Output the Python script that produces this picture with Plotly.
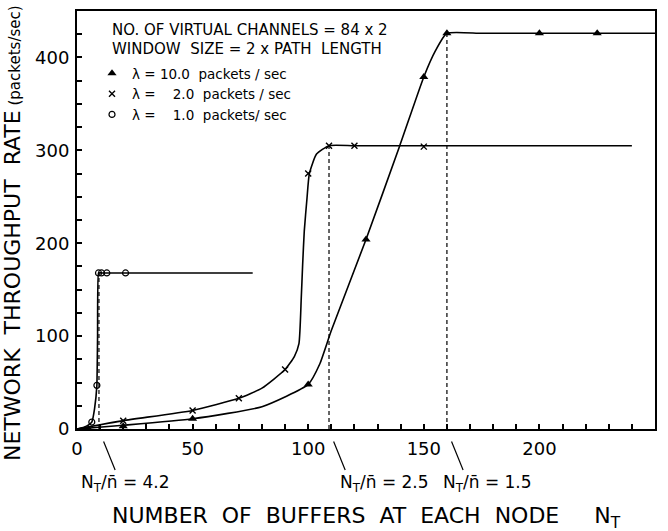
import plotly.graph_objects as go

# ---------------- data ----------------
# lambda = 10.0 packets/sec (filled triangles)
nt_l10 = [5, 20, 50, 100, 125, 150, 160, 200, 225]
rate_l10 = [0, 3, 11, 48, 204, 379, 426, 426, 426]
curve_nt_l10 = [0, 20, 50, 80, 100, 105, 110, 125, 139.6, 150, 155, 160, 175, 200, 225, 250]
curve_rate_l10 = [0, 4, 11, 24, 48, 70, 106, 204, 305, 379, 407, 426, 426, 426, 426, 426]

# lambda = 2.0 packets/sec (crosses)
nt_l2 = [20, 50, 70, 90, 100, 109, 120, 150]
rate_l2 = [9, 20, 33, 64, 275, 305, 305, 304]
curve_nt_l2 = [0, 20, 50, 70, 80, 90, 94, 96, 97, 97.6, 98.3, 99.5, 100.5, 103.6, 109, 120, 150, 180, 210, 240]
curve_rate_l2 = [0, 9, 20, 33, 44, 64, 78, 92, 141, 177, 213, 249, 275, 296, 305, 305, 305, 305, 305, 305]

# lambda = 1.0 packets/sec (open circles)
nt_l1 = [6.4, 8.6, 9.3, 10.6, 12.9, 21]
rate_l1 = [7.5, 47, 168, 168, 168, 168]
curve_nt_l1 = [0, 3, 5, 6.4, 7.6, 8.6, 8.9, 9.3, 10.6, 12.9, 21, 40, 58, 76]
curve_rate_l1 = [0, 2, 4.5, 7.5, 22, 47, 100, 168, 168, 168, 168, 168, 168, 168]

# saturation points (dashed verticals) and N_T / n-bar ratios
sat_nt = [9.5, 109, 160]
sat_rate = [168, 305, 426]
sat_ratio = ["4.2", "2.5", "1.5"]

series_names = ["λ = 10.0  packets / sec", "λ = \u2007\u00a02.0  packets / sec", "λ = \u2007\u00a01.0  packets/ sec"]
header_lines = ["NO. OF VIRTUAL CHANNELS = 84 x 2", "WINDOW  SIZE = 2 x PATH  LENGTH"]

FONT = "DejaVu Sans"
L, R, T, B = 77, 13, 11, 102
W, H = 668, 531
pw, ph = W - L - R, H - T - B


def px_x(p):
    return (p - L) / pw


def px_y(p):
    return (H - B - p) / ph


fig = go.Figure()

# curves
for cx, cy, sm in [(curve_nt_l10, curve_rate_l10, 0.5), (curve_nt_l2, curve_rate_l2, 0.5), (curve_nt_l1, curve_rate_l1, 0.3)]:
    fig.add_trace(go.Scatter(x=cx, y=cy, mode="lines", line=dict(color="black", width=1.6, shape="spline", smoothing=sm),
                             showlegend=False, hoverinfo="skip", cliponaxis=False))

# markers
fig.add_trace(go.Scatter(x=nt_l10, y=rate_l10, mode="markers", name=series_names[0],
                         marker=dict(symbol="triangle-up", size=8, color="black")))
fig.add_trace(go.Scatter(x=nt_l2, y=rate_l2, mode="markers", name=series_names[1],
                         marker=dict(symbol="x-thin", size=6, color="black", line=dict(color="black", width=1.4))))
fig.add_trace(go.Scatter(x=nt_l1, y=rate_l1, mode="markers", name=series_names[2],
                         marker=dict(symbol="circle-open", size=6, color="black", line=dict(width=1.2))))

# dashed verticals, slanted pointers and ratio labels
label_shift_px = [-36, -7, -22]
for xn, yr, ratio, sh in zip(sat_nt, sat_rate, sat_ratio, label_shift_px):
    fig.add_shape(type="line", xref="x", yref="y", x0=xn, x1=xn, y0=0, y1=yr,
                  line=dict(color="black", width=1.2, dash="4px,3px"))
    fig.add_shape(type="line", xref="x", yref="paper", x0=xn + 2, x1=xn + 7, y0=-0.03, y1=-0.098,
                  line=dict(color="black", width=1.2))
    fig.add_annotation(x=xn + 7, y=px_y(483), xref="x", yref="paper", xanchor="left", yanchor="middle",
                       xshift=sh, showarrow=False,
                       text="N<sub>T</sub>/n\u0304 = " + ratio, font=dict(family=FONT, size=17, color="black"))

# header text of the key
for line, ypx in zip(header_lines, [30, 49]):
    fig.add_annotation(x=px_x(110), y=px_y(ypx), xref="paper", yref="paper", showarrow=False, text=line,
                       font=dict(family=FONT, size=15, color="black"), xanchor="left", yanchor="middle")

fig.add_annotation(x=0, y=px_y(233), xref="paper", yref="paper", xshift=-65, xanchor="center", yanchor="middle",
                   textangle=-90, showarrow=False,
                   text="NETWORK\u00a0\u00a0THROUGHPUT\u00a0\u00a0RATE<span style='font-size:15px'>\u00a0(packets/sec)</span>",
                   font=dict(family=FONT, size=22, color="black"))
fig.add_annotation(x=0.5, y=px_y(517), xref="paper", yref="paper", xanchor="center", yanchor="middle",
                   showarrow=False,
                   text="NUMBER\u00a0\u00a0OF\u00a0\u00a0BUFFERS\u00a0\u00a0AT\u00a0\u00a0EACH\u00a0\u00a0NODE\u00a0\u00a0\u00a0\u00a0\u00a0N<sub>T</sub>",
                   font=dict(family=FONT, size=22, color="black"))

axis_common = dict(showgrid=False, zeroline=False, showline=True, linecolor="black", linewidth=2, mirror=True,
                   ticks="inside", ticklen=5, tickwidth=1.5, tickcolor="black",
                   tickfont=dict(family=FONT, size=18, color="black"))
fig.update_xaxes(range=[0, 250], dtick=50, tick0=0, ticklabelstandoff=2,
                 minor=dict(dtick=10, ticks="inside", ticklen=5, tickwidth=1.5, tickcolor="black"), **axis_common)
fig.update_yaxes(range=[0, 450], dtick=100, tick0=0, ticklabelstandoff=2,
                 minor=dict(dtick=25, ticks="inside", ticklen=5, tickwidth=1.5, tickcolor="black"), **axis_common)

fig.update_layout(width=W, height=H, margin=dict(l=L, r=R, t=T, b=B, autoexpand=False),
                  paper_bgcolor="white", plot_bgcolor="white",
                  font=dict(family=FONT, color="black"),
                  showlegend=True,
                  legend=dict(x=px_x(92), y=px_y(58), xanchor="left", yanchor="top",
                              bgcolor="rgba(0,0,0,0)", font=dict(family=FONT, size=13.5, color="black"),
                              itemwidth=30, tracegroupgap=0))

fig.write_html("out.html", config={"displayModeBar": False},
               post_script="document.body.style.margin='0';")
